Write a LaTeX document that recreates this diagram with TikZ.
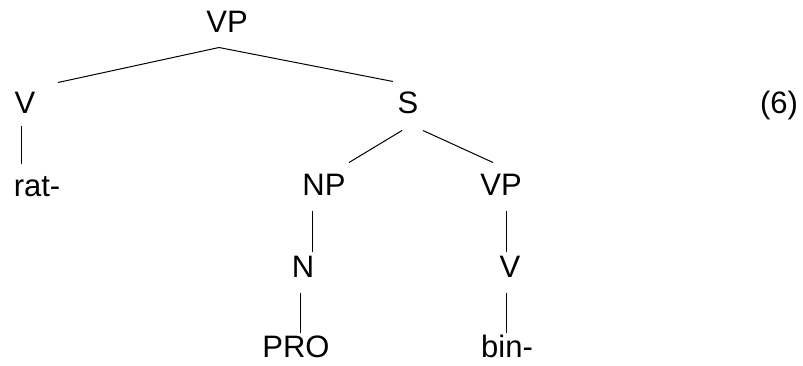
\documentclass[tikz,border=0pt]{standalone}
\usepackage{fontspec}
\setmainfont{Liberation Sans}
\usepackage{tikz}
\tikzset{
    cat/.style={
           inner sep=0pt,
           anchor=base,
           font=\fontsize{31}{31}\selectfont,
           text height=22pt,
           text depth=15pt
           },
}

\begin{document}
\begin{tikzpicture}[x=1pt,y=-1pt,line width=1pt]
    \useasboundingbox (0,0) rectangle (803,365);

    % top level
    \node[cat] (VPtop) at (227,32) {VP};
    \node[cat] (Vhigh) at (25,113) {V};
    \node[cat] (S) at (408,113) {S};
    \node[cat] (exnum) at (779,113) {(6)};
    \node[cat] (rat) at (37,196) {rat-};

    % embedded clause
    \node[cat] (NP) at (324,195) {NP};
    \node[cat] (VPlow) at (501,195) {VP};
    \node[cat] (N) at (303,277) {N};
    \node[cat] (Vlow) at (510,277) {V};
    \node[cat] (PRO) at (296,357) {PRO};
    \node[cat] (bin) at (507,357) {bin-};

    \draw ([xshift=-8pt]VPtop.south) -- ([shift={(33pt,8pt)}]Vhigh.north);
    \draw ([xshift=-8pt]VPtop.south) -- ([shift={(-15pt,9pt)}]S.north);
    \draw ([shift={(-4pt,3pt)}]Vhigh.south) -- ([shift={(-16pt,10pt)}]rat.north);
    \draw ([shift={(-6pt,-2pt)}]S.south) -- ([shift={(25pt,10pt)}]NP.north);
    \draw ([shift={(15pt,-2pt)}]S.south) -- ([shift={(-8pt,10pt)}]VPlow.north);
    \draw ([xshift=-12pt]NP.south) -- ([shift={(9pt,3pt)}]N.north);
    \draw ([xshift=5pt]VPlow.south) -- ([shift={(-4pt,3pt)}]Vlow.north);
    \draw ([xshift=-3pt]N.south) -- ([shift={(4pt,2pt)}]PRO.north);
    \draw ([xshift=-4pt]Vlow.south) -- ([shift={(-1pt,2pt)}]bin.north);
\end{tikzpicture}
\end{document}
